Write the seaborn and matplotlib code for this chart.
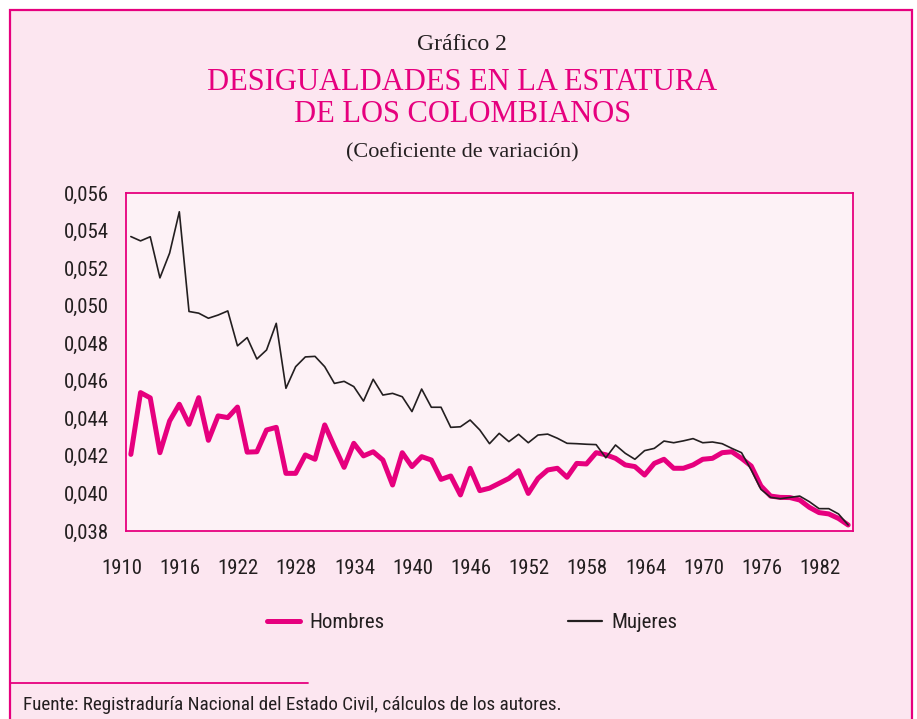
import matplotlib
matplotlib.use("Agg")
import matplotlib.pyplot as plt
import matplotlib.ticker as mticker
import matplotlib.transforms as mtransforms
from matplotlib import font_manager
from matplotlib.lines import Line2D
from matplotlib.patches import Rectangle
import pandas as pd
import seaborn as sns

# Data (coefficient of variation of height, by birth year)
years = list(range(1910, 1985))
hombres = [
    0.04208, 0.04537, 0.04509, 0.04217, 0.04386, 0.04475, 0.04368, 0.04510, 0.04283, 0.04413,
    0.04404, 0.04460, 0.04220, 0.04222, 0.04338, 0.04352, 0.04107, 0.04107, 0.04205, 0.04182,
    0.04365, 0.04249, 0.04139, 0.04267, 0.04200, 0.04222, 0.04178, 0.04045, 0.04217, 0.04143,
    0.04196, 0.04178, 0.04075, 0.04093, 0.03992, 0.04134, 0.04015, 0.04028, 0.04054, 0.04080,
    0.04121, 0.04000, 0.04080, 0.04125, 0.04134, 0.04086, 0.04160, 0.04157, 0.04217, 0.04206,
    0.04187, 0.04152, 0.04143, 0.04098, 0.04160, 0.04182, 0.04134, 0.04134, 0.04152, 0.04182,
    0.04187, 0.04217, 0.04222, 0.04187, 0.04146, 0.04040, 0.03986, 0.03979, 0.03978, 0.03965,
    0.03926, 0.03898, 0.03891, 0.03867, 0.03832,
]
mujeres = [
    0.05368, 0.05345, 0.05367, 0.05148, 0.05280, 0.05500, 0.04969, 0.04960, 0.04933, 0.04950,
    0.04972, 0.04786, 0.04830, 0.04716, 0.04764, 0.04906, 0.04560, 0.04675, 0.04727, 0.04730,
    0.04675, 0.04586, 0.04597, 0.04569, 0.04492, 0.04608, 0.04524, 0.04533, 0.04515, 0.04436,
    0.04556, 0.04459, 0.04459, 0.04352, 0.04355, 0.04391, 0.04338, 0.04265, 0.04320, 0.04276,
    0.04315, 0.04270, 0.04311, 0.04316, 0.04294, 0.04267, 0.04265, 0.04262, 0.04260, 0.04190,
    0.04258, 0.04214, 0.04182, 0.04228, 0.04240, 0.04279, 0.04270, 0.04280, 0.04292, 0.04270,
    0.04274, 0.04265, 0.04240, 0.04217, 0.04125, 0.04022, 0.03979, 0.03972, 0.03979, 0.03986,
    0.03956, 0.03919, 0.03919, 0.03891, 0.03832,
]
xtick_labels = ["1910", "1916", "1922", "1928", "1934", "1940", "1946",
                "1952", "1958", "1964", "1970", "1976", "1982"]
yticks = [0.038, 0.040, 0.042, 0.044, 0.046, 0.048, 0.050, 0.052, 0.054, 0.056]

# Style
PINK = "#E6007E"
BLACK = "#231F20"
BG_OUTER = "#FCE6F0"
BG_PLOT = "#FDF2F6"

sns.set_theme(style="white")
installed = {f.name for f in font_manager.fontManager.ttflist}
narrow = [f for f in ["Liberation Sans Narrow", "DejaVu Sans Condensed", "Roboto Condensed"]
          if f in installed]
NARROW_OK = bool(narrow)
plt.rcParams["font.family"] = narrow + ["Liberation Sans", "DejaVu Sans"]
SERIF = ["Liberation Serif", "DejaVu Serif"]
fs = 1.0 if NARROW_OK else 0.86   # shrink a bit when no condensed face is present

df = pd.DataFrame({"year": years, "Hombres": hombres, "Mujeres": mujeres})

fig = plt.figure(figsize=(9.17, 7.19), dpi=100)
fig.patch.set_facecolor("white")

# Pink frame of the box
frame = Rectangle((9.5 / 917, -0.02), (912 - 9.5) / 917, 1 - 9.5 / 719 + 0.02,
                  transform=fig.transFigure, facecolor=BG_OUTER,
                  edgecolor=PINK, linewidth=1.6, zorder=-5)
fig.patches.append(frame)
# separator above source note
fig.add_artist(Line2D([9.5 / 917, 308 / 917], [1 - 683 / 719] * 2,
                      transform=fig.transFigure, color=PINK, linewidth=1.3))

ax = fig.add_axes([126 / 917, 1 - 531 / 719, (853 - 126) / 917, (531 - 193) / 719])
ax.set_zorder(2)
ax.set_facecolor(BG_PLOT)

sns.lineplot(data=df, x="year", y="Hombres", color=PINK, linewidth=3.6, ax=ax)
sns.lineplot(data=df, x="year", y="Mujeres", color=BLACK, linewidth=1.2, ax=ax)

ax.set_xlim(1909.5, 1984.5)
ax.set_ylim(0.038, 0.056)
ax.set_xticks([1909.5 + 6 * k for k in range(len(xtick_labels))])
ax.set_xticklabels(xtick_labels)
ax.set_yticks(yticks)
ax.yaxis.set_major_formatter(mticker.FuncFormatter(lambda v, _: f"{v:.3f}".replace(".", ",")))
ax.set_xlabel("")
ax.set_ylabel("")

for s in ax.spines.values():
    s.set_color(PINK)
    s.set_linewidth(1.3)
ax.tick_params(axis="both", direction="in", length=4, width=1, color=PINK,
               labelsize=15 * fs, labelcolor="#231F20")
ax.tick_params(axis="x", pad=20)
ax.tick_params(axis="y", pad=12)

# year labels sit slightly left of their tick marks
shift = mtransforms.ScaledTranslation(-4 / 100, 0, fig.dpi_scale_trans)
for lbl in ax.get_xticklabels():
    lbl.set_transform(lbl.get_transform() + shift)

# Titles
cx = 0.504
fig.text(cx, 1 - 45 / 719, "Gráfico 2", ha="center", va="center",
         family=SERIF, fontsize=17, color="#231F20")
fig.text(cx, 1 - 83 / 719, "DESIGUALDADES EN LA ESTATURA", ha="center", va="center",
         family=SERIF, fontsize=22, color=PINK)
fig.text(cx, 1 - 115 / 719, "DE LOS COLOMBIANOS", ha="center", va="center",
         family=SERIF, fontsize=22, color=PINK)
fig.text(cx, 1 - 153 / 719, "(Coeficiente de variación)", ha="center", va="center",
         family=SERIF, fontsize=16, color="#231F20")

# Legend
handles = [Line2D([], [], color=PINK, linewidth=3.6),
           Line2D([], [], color=BLACK, linewidth=1.6)]
leg = fig.legend(handles, ["Hombres", "Mujeres"], ncol=2, loc="center",
                 bbox_to_anchor=(472 / 917, 1 - 623 / 719), frameon=False,
                 fontsize=15 * fs, handlelength=1.6, handletextpad=0.45,
                 columnspacing=9.2 if not NARROW_OK else 8.8)
for t in leg.get_texts():
    t.set_color("#231F20")

# Source note
fig.text(23 / 917, 1 - 705 / 719,
         "Fuente: Registraduría Nacional del Estado Civil, cálculos de los autores.",
         ha="left", va="center", fontsize=13.8 * fs, color="#231F20")

fig.savefig("out.png", dpi=100, facecolor=fig.get_facecolor())
print("Saved: out.png")
